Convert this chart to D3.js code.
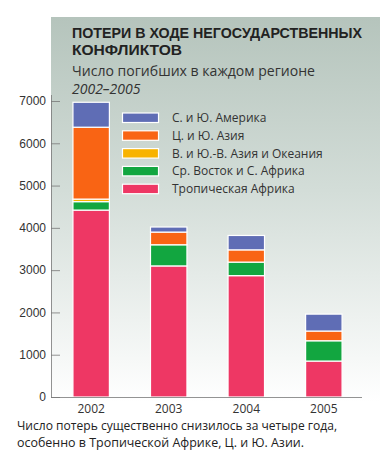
<!DOCTYPE html>
<html>
<head>
<meta charset="utf-8">
<script src="https://cdn.jsdelivr.net/npm/d3@7"></script>
<style>
  body { margin: 0; background: #fff; }
  svg { display: block; font-family: "Open Sans", "Noto Sans", sans-serif; }
</style>
</head>
<body>
<div id="chart"></div>
<script>
// chart values
const years = ['2002', '2003', '2004', '2005'];
const regions = ['africa', 'mideast', 'eastasia', 'southasia', 'america'];
const regionLabels = ['Тропическая Африка', 'Ср. Восток и С. Африка', 'В. и Ю.-В. Азия и Океания', 'Ц. и Ю. Азия', 'С. и Ю. Америка'];
const africa = [4420, 3100, 2870, 850];
const mideast = [200, 500, 320, 480];
const eastasia = [60, 0, 0, 0];
const southasia = [1700, 300, 290, 230];
const america = [590, 120, 340, 400];
const yTicks = [0, 1000, 2000, 3000, 4000, 5000, 6000, 7000];
const colors = ['#ee3764', '#12a640', '#f8b300', '#f96414', '#5f6db5'];

const W = 389, H = 457;
const svg = d3.select('#chart').append('svg')
  .attr('width', W)
  .attr('height', H);

const defs = svg.append('defs');
const grad = defs.append('linearGradient')
  .attr('id', 'bg')
  .attr('x1', 0).attr('y1', 0).attr('x2', 0).attr('y2', 1);
grad.append('stop').attr('offset', '0%').attr('stop-color', '#b5c4bc');
grad.append('stop').attr('offset', '45%').attr('stop-color', '#d3ddd8');
grad.append('stop').attr('offset', '100%').attr('stop-color', '#ffffff');

// background panel
svg.append('rect')
  .attr('x', 51).attr('y', 17)
  .attr('width', 329).attr('height', 385)
  .attr('fill', 'url(#bg)');

const x = d3.scaleBand()
  .domain(years)
  .range([52, 363])
  .paddingInner(0.53)
  .paddingOuter(0.27);

const y = d3.scaleLinear()
  .domain([0, 7000])
  .range([397, 101]);

// y axis
const yAxis = svg.append('g')
  .attr('transform', 'translate(51,0)')
  .call(d3.axisRight(y).tickValues(yTicks).tickSize(9).tickFormat(d3.format('d')));
yAxis.select('.domain').remove();
yAxis.selectAll('.tick line').attr('stroke', '#777').attr('stroke-width', 0.8);
yAxis.selectAll('.tick text')
  .attr('x', -5)
  .attr('text-anchor', 'end')
  .attr('fill', '#333')
  .style('font-size', '12px');

svg.append('line')
  .attr('x1', 51.5).attr('x2', 51.5)
  .attr('y1', 95).attr('y2', 397)
  .attr('stroke', '#777').attr('stroke-width', 0.8);

// stacked bars
const table = years.map((yr, i) => ({
  year: yr,
  africa: africa[i],
  mideast: mideast[i],
  eastasia: eastasia[i],
  southasia: southasia[i],
  america: america[i]
}));
const series = d3.stack().keys(regions)(table);

svg.append('g')
  .selectAll('g')
  .data(series)
  .join('g')
  .attr('fill', (d, i) => colors[i])
  .selectAll('rect')
  .data(d => d.filter(s => s[1] - s[0] > 0))
  .join('rect')
  .attr('x', d => x(d.data.year))
  .attr('y', d => y(d[1]))
  .attr('width', x.bandwidth())
  .attr('height', d => y(d[0]) - y(d[1]))
  .attr('stroke', '#fff')
  .attr('stroke-width', 1.2);

// x axis baseline
svg.append('line')
  .attr('x1', 51).attr('x2', 362)
  .attr('y1', 397.5).attr('y2', 397.5)
  .attr('stroke', '#777').attr('stroke-width', 0.8);

svg.append('g')
  .selectAll('text')
  .data(years)
  .join('text')
  .attr('x', d => x(d) + x.bandwidth() / 2)
  .attr('y', 413)
  .attr('text-anchor', 'middle')
  .attr('fill', '#333')
  .style('font-size', '12px')
  .text(d => d);

// legend (top row is the top of the stack)
const legend = svg.append('g');
const legendRows = regions.map((r, i) => i).reverse();
legendRows.forEach((ri, k) => {
  const ly = 113 + k * 17.8;
  legend.append('rect')
    .attr('x', 122.5).attr('y', ly)
    .attr('width', 36).attr('height', 9.5)
    .attr('fill', colors[ri])
    .attr('stroke', '#fff').attr('stroke-width', 1.2);
  legend.append('text')
    .attr('x', 172).attr('y', ly + 9)
    .attr('fill', '#333')
    .style('font-size', '12px')
    .text(regionLabels[ri]);
});

// titles
const title = svg.append('g').attr('fill', '#222');
title.append('text')
  .attr('x', 72).attr('y', 38)
  .attr('textLength', 290).attr('lengthAdjust', 'spacingAndGlyphs')
  .style('font-family', '"Liberation Sans", Arial, sans-serif')
  .style('font-size', '14.5px').style('font-weight', 'bold')
  .text('ПОТЕРИ В ХОДЕ НЕГОСУДАРСТВЕННЫХ');
title.append('text')
  .attr('x', 72).attr('y', 55)
  .attr('textLength', 110).attr('lengthAdjust', 'spacingAndGlyphs')
  .style('font-family', '"Liberation Sans", Arial, sans-serif')
  .style('font-size', '14.5px').style('font-weight', 'bold')
  .text('КОНФЛИКТОВ');
title.append('text')
  .attr('x', 72).attr('y', 76)
  .attr('fill', '#333')
  .attr('textLength', 243).attr('lengthAdjust', 'spacingAndGlyphs')
  .style('font-size', '14px')
  .text('Число погибших в каждом регионе');
title.append('text')
  .attr('x', 72).attr('y', 94)
  .attr('fill', '#333')
  .style('font-size', '14px').style('font-style', 'italic')
  .text('2002–2005');

// footnote
const note = svg.append('g').attr('fill', '#222').style('font-size', '12.5px');
note.append('text')
  .attr('x', 17).attr('y', 430)
  .attr('textLength', 320).attr('lengthAdjust', 'spacingAndGlyphs')
  .text('Число потерь существенно снизилось за четыре года,');
note.append('text')
  .attr('x', 17).attr('y', 447)
  .attr('textLength', 287).attr('lengthAdjust', 'spacingAndGlyphs')
  .text('особенно в Тропической Африке, Ц. и Ю. Азии.');
</script>
</body>
</html>
